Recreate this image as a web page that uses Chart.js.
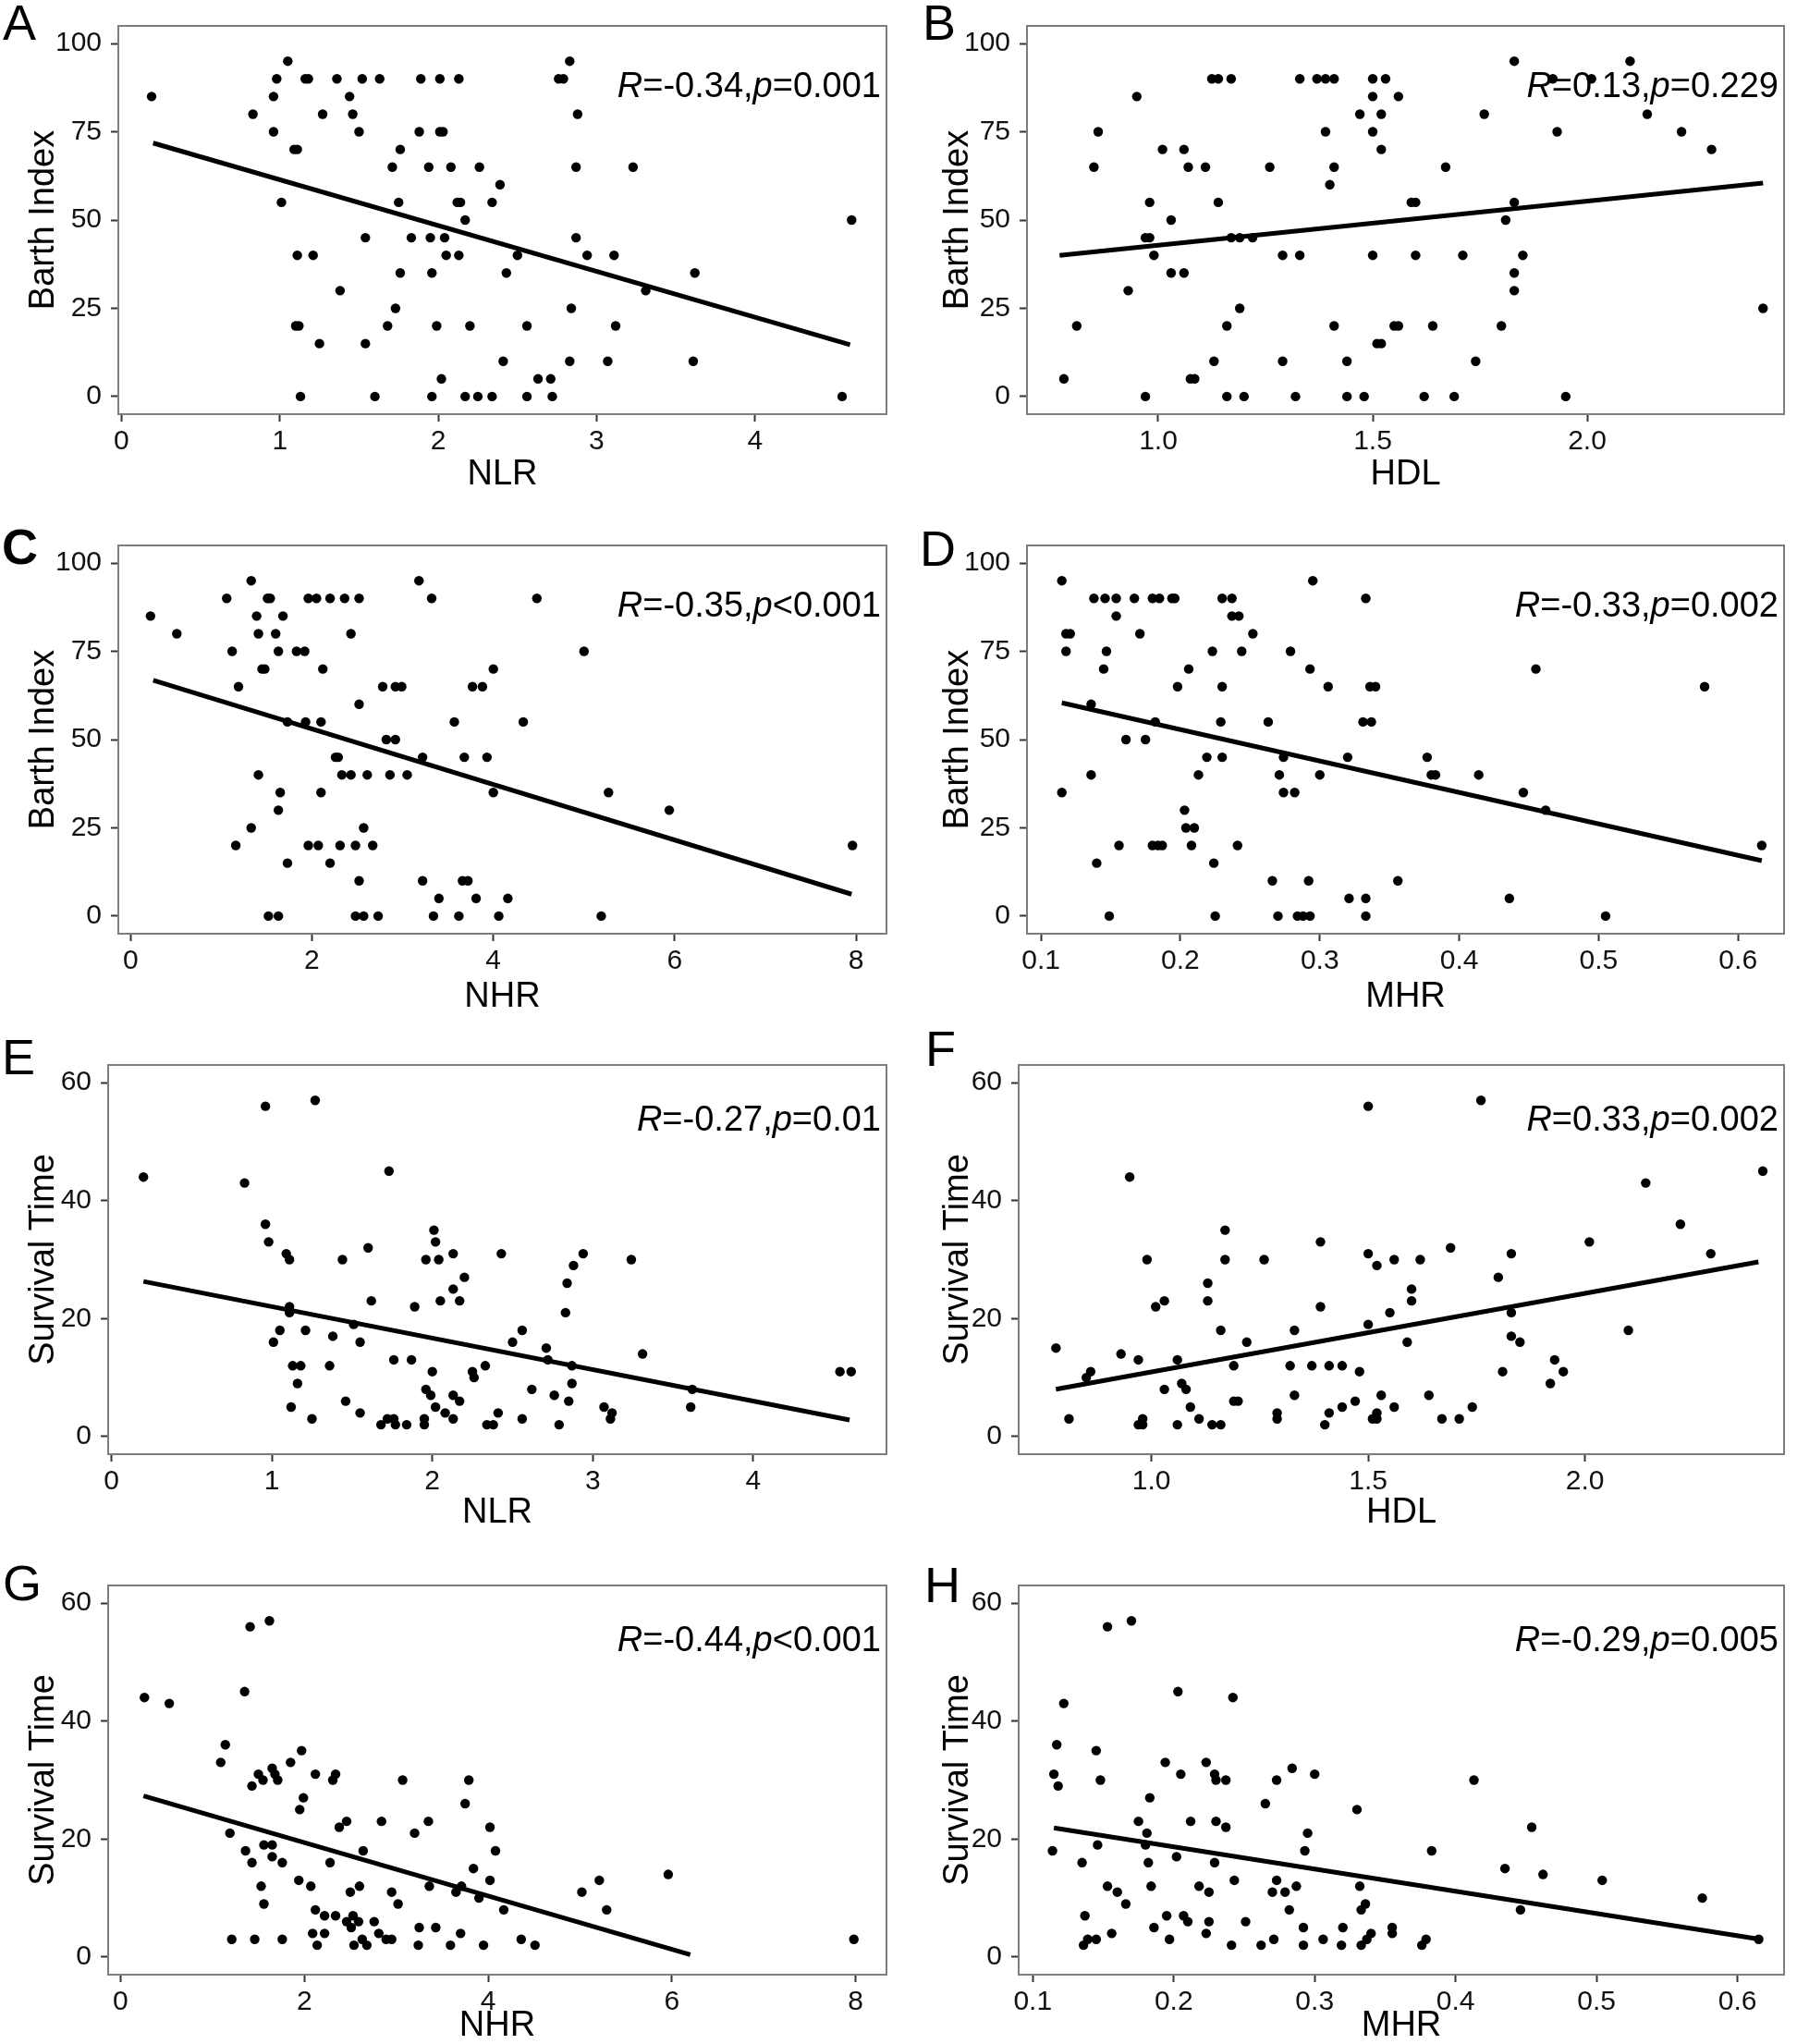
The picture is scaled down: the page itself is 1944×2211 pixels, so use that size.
<!DOCTYPE html>
<html>
<head>
<meta charset="utf-8">
<script src="https://cdn.jsdelivr.net/npm/chart.js@4/dist/chart.umd.min.js"></script>
<style>
  html, body { margin: 0; padding: 0; background: #fff; }
  #fig { position: relative; width: 1944px; height: 2211px; overflow: hidden; }
  #fig canvas { position: absolute; }
</style>
</head>
<body>
<div id="fig"></div>
<script>
// tick values / labels
const barthTicks = [0, 25, 50, 75, 100];
const survTicks = [0, 20, 40, 60];
const nlrTicks = [0, 1, 2, 3, 4];
const hdlTicks = [1.0, 1.5, 2.0];
const hdlTickLabels = ['1.0', '1.5', '2.0'];
const nhrTicks = [0, 2, 4, 6, 8];
const mhrTicks = [0.1, 0.2, 0.3, 0.4, 0.5, 0.6];
const mhrTickLabels = ['0.1', '0.2', '0.3', '0.4', '0.5', '0.6'];

// points [x, y]
const nlrBarth = [
  [0.19,85],[1.05,95],[0.98,90],[1.16,90],[1.18,90],[1.36,90],[1.52,90],[1.63,90],[1.89,90],[2.01,90],[2.13,90],[2.76,90],[2.79,90],[2.83,95],
  [0.96,85],[1.44,85],[0.83,80],[1.27,80],[1.46,80],[2.88,80],
  [0.96,75],[1.50,75],[1.88,75],[2.01,75],[2.03,75],
  [1.09,70],[1.11,70],[1.76,70],
  [1.71,65],[1.94,65],[2.08,65],[2.26,65],[2.87,65],[3.23,65],
  [2.39,60],
  [1.01,55],[1.75,55],[2.12,55],[2.14,55],[2.34,55],
  [2.17,50],[4.61,50],
  [1.54,45],[1.83,45],[1.95,45],[2.04,45],[2.87,45],
  [1.11,40],[1.21,40],[2.05,40],[2.13,40],[2.50,40],[2.94,40],[3.11,40],
  [1.76,35],[1.96,35],[2.43,35],[3.62,35],
  [1.38,30],[3.31,30],
  [1.73,25],[2.84,25],
  [1.10,20],[1.12,20],[1.68,20],[1.99,20],[2.20,20],[2.56,20],[3.12,20],
  [1.25,15],[1.54,15],
  [2.41,10],[2.83,10],[3.07,10],[3.61,10],
  [2.02,5],[2.63,5],[2.71,5],
  [1.13,0],[1.60,0],[1.96,0],[2.17,0],[2.25,0],[2.34,0],[2.56,0],[2.72,0],[4.55,0]
];
const hdlBarth = [
  [0.78,5],[0.81,20],[0.85,65],[0.86,75],[0.93,30],[0.95,85],[0.97,0],[0.97,45],[0.98,45],[0.98,55],[0.99,40],
  [1.01,70],[1.03,50],[1.03,35],[1.06,70],[1.06,35],[1.07,65],[1.075,5],[1.085,5],[1.11,65],[1.13,10],[1.125,90],[1.14,90],
  [1.14,55],[1.17,90],[1.16,20],[1.16,0],[1.17,45],[1.19,45],[1.19,25],[1.20,0],[1.22,45],[1.26,65],[1.29,40],[1.29,10],
  [1.32,0],[1.33,90],[1.33,40],[1.37,90],[1.39,90],[1.41,90],[1.39,75],[1.40,60],[1.41,65],[1.41,20],[1.44,10],[1.44,0],
  [1.47,80],[1.48,0],[1.50,90],[1.50,85],[1.50,75],[1.50,40],[1.52,80],[1.52,70],[1.53,90],[1.51,15],[1.52,15],[1.56,85],
  [1.55,20],[1.56,20],[1.59,55],[1.60,55],[1.60,40],[1.62,0],[1.64,20],[1.67,65],[1.69,0],[1.71,40],[1.74,10],[1.76,80],
  [1.80,20],[1.81,50],[1.83,95],[1.83,55],[1.83,35],[1.83,30],[1.85,40],[1.92,90],[1.93,75],[1.95,0],[2.01,90],
  [2.10,95],[2.14,80],[2.22,75],[2.29,70],[2.41,25]
];
const nhrBarth = [
  [0.22,85],[0.51,80],[1.06,90],[1.33,95],[1.12,75],[1.19,65],[1.39,85],[1.41,80],[1.45,70],[1.48,70],[1.51,90],[1.54,90],
  [1.60,80],[1.63,75],[1.68,85],[1.73,55],[1.83,75],[1.92,75],[1.93,55],[1.96,90],[2.05,90],[2.12,70],[2.10,55],[2.20,90],
  [2.36,90],[2.43,80],[2.52,90],[2.52,60],[3.18,95],[3.32,90],[4.48,90],[5.00,75],[4.00,70],[2.78,65],[2.92,65],[2.99,65],
  [3.77,65],[3.88,65],[3.57,55],[4.33,55],[2.82,50],[2.92,50],[2.26,45],[2.29,45],[3.22,45],[3.68,45],[3.93,45],
  [1.41,40],[2.33,40],[2.43,40],[2.61,40],[2.86,40],[3.05,40],[1.65,35],[2.10,35],[4.00,35],[5.27,35],[1.63,30],[5.94,30],
  [1.33,25],[2.57,25],[1.16,20],[1.96,20],[2.07,20],[2.31,20],[2.48,20],[2.67,20],[7.96,20],[1.73,15],[2.20,15],
  [2.52,10],[3.22,10],[3.66,10],[3.72,10],[3.40,5],[3.81,5],[4.16,5],
  [1.52,0],[1.63,0],[2.48,0],[2.57,0],[2.73,0],[3.34,0],[3.62,0],[4.06,0],[5.19,0]
];
const mhrBarth = [
  [0.115,95],[0.138,90],[0.146,90],[0.154,90],[0.167,90],[0.180,90],[0.185,90],[0.194,90],[0.196,90],[0.230,90],[0.237,90],
  [0.333,90],[0.295,95],[0.154,85],[0.237,85],[0.242,85],[0.118,80],[0.121,80],[0.171,80],[0.252,80],
  [0.118,75],[0.147,75],[0.223,75],[0.244,75],[0.279,75],[0.145,70],[0.206,70],[0.293,70],[0.455,70],
  [0.198,65],[0.230,65],[0.306,65],[0.336,65],[0.340,65],[0.576,65],[0.136,60],
  [0.182,55],[0.229,55],[0.263,55],[0.331,55],[0.337,55],[0.161,50],[0.175,50],
  [0.219,45],[0.230,45],[0.274,45],[0.320,45],[0.377,45],[0.136,40],[0.213,40],[0.271,40],[0.300,40],[0.380,40],[0.383,40],[0.414,40],
  [0.115,35],[0.274,35],[0.282,35],[0.446,35],[0.203,30],[0.462,30],[0.204,25],[0.210,25],
  [0.156,20],[0.180,20],[0.184,20],[0.187,20],[0.208,20],[0.241,20],[0.617,20],[0.140,15],[0.224,15],
  [0.266,10],[0.292,10],[0.356,10],[0.321,5],[0.333,5],[0.436,5],
  [0.149,0],[0.225,0],[0.270,0],[0.284,0],[0.288,0],[0.293,0],[0.333,0],[0.505,0]
];
const nlrSurv = [
  [0.20,44],[0.83,43],[0.96,56],[1.27,57],[1.73,45],[0.96,36],[0.98,33],[1.09,31],[1.11,30],[1.44,30],[1.60,32],
  [2.01,35],[2.02,33],[1.96,30],[2.04,30],[2.13,31],[2.20,27],[2.43,31],[2.94,31],[2.88,29],[3.24,30],[2.84,26],
  [2.13,25],[1.62,23],[2.05,23],[2.17,23],[1.89,22],[1.11,22],[1.11,21],[2.83,21],[1.51,19],[1.05,18],[1.21,18],
  [2.56,18],[1.01,16],[1.38,17],[1.55,16],[2.50,16],[2.71,15],[3.31,14],[1.76,13],[1.87,13],[2.72,13],
  [1.13,12],[1.18,12],[1.36,12],[2.33,12],[2.87,12],[2.00,11],[2.25,11],[2.26,10],[4.54,11],[4.61,11],
  [1.16,9],[2.87,9],[1.96,8],[1.99,7],[2.62,8],[3.62,8],[2.13,7],[2.76,7],[1.46,6],[2.17,6],[2.85,6],
  [1.12,5],[2.02,5],[3.07,5],[3.61,5],[1.55,4],[2.08,4],[2.41,4],[3.12,4],
  [1.25,3],[1.72,3],[1.76,3],[1.95,3],[2.13,3],[2.56,3],[3.11,3],
  [1.68,2],[1.77,2],[1.84,2],[1.95,2],[2.34,2],[2.38,2],[2.79,2]
];
const hdlSurv = [
  [0.78,15],[0.81,3],[0.85,10],[0.86,11],[0.93,14],[0.95,44],[0.97,13],[0.97,2],[0.98,2],[0.98,3],[0.99,30],
  [1.01,22],[1.03,23],[1.03,8],[1.06,13],[1.06,2],[1.07,9],[1.08,8],[1.09,5],[1.11,3],[1.13,26],[1.13,23],
  [1.14,2],[1.16,2],[1.16,18],[1.17,35],[1.17,30],[1.19,12],[1.19,6],[1.20,6],[1.22,16],[1.26,30],[1.29,4],[1.29,3],
  [1.32,12],[1.33,18],[1.33,7],[1.37,12],[1.39,33],[1.39,22],[1.40,2],[1.41,12],[1.41,4],[1.44,12],[1.44,5],
  [1.47,6],[1.48,11],[1.50,56],[1.50,31],[1.50,19],[1.51,3],[1.52,3],[1.52,4],[1.52,29],[1.53,7],[1.55,21],
  [1.56,30],[1.56,5],[1.59,16],[1.60,25],[1.60,23],[1.62,30],[1.64,7],[1.67,3],[1.69,32],[1.71,3],[1.74,5],
  [1.76,57],[1.80,27],[1.81,11],[1.83,31],[1.83,21],[1.83,17],[1.85,16],[1.92,9],[1.93,13],[1.95,11],
  [2.01,33],[2.10,18],[2.14,43],[2.22,36],[2.29,31],[2.41,45]
];
const nhrSurv = [
  [0.26,44],[0.53,43],[1.41,56],[1.62,57],[1.35,45],[1.14,36],[1.09,33],[1.43,29],[1.50,31],[1.55,30],[1.65,32],
  [1.68,31],[1.71,30],[1.85,33],[1.97,35],[1.99,27],[1.95,25],[2.12,31],[2.31,30],[2.34,31],[2.46,23],[2.38,22],
  [3.07,30],[3.79,30],[3.75,26],[3.35,23],[2.84,23],[3.20,21],[4.02,22],[1.19,21],[1.56,19],[1.65,19],[1.36,18],
  [2.64,18],[4.08,18],[1.43,16],[1.65,17],[1.76,16],[2.28,16],[3.84,15],[5.96,14],[1.94,13],[4.02,13],[5.21,13],
  [1.53,12],[2.07,12],[2.60,12],[3.36,12],[3.71,12],[2.50,11],[2.95,11],[3.65,11],[5.02,11],[1.56,9],[3.02,9],
  [3.90,10],[2.12,8],[4.17,8],[5.29,8],[2.22,7],[2.34,7],[2.53,7],[2.46,6],[2.51,5],[2.59,6],[2.76,6],[3.25,5],[3.43,5],
  [2.09,4],[2.22,4],[2.81,4],[3.70,4],[1.21,3],[1.46,3],[1.76,3],[2.63,3],[2.89,3],[2.95,3],[4.36,3],[7.98,3],
  [2.14,2],[2.54,2],[2.68,2],[3.24,2],[3.59,2],[3.95,2],[4.51,2]
];
const mhrSurv = [
  [0.153,56],[0.170,57],[0.122,43],[0.203,45],[0.242,44],[0.117,36],[0.115,31],[0.118,29],[0.145,35],[0.148,30],
  [0.194,33],[0.205,31],[0.223,33],[0.229,31],[0.230,30],[0.237,30],[0.284,32],[0.273,30],[0.300,31],[0.413,30],
  [0.183,27],[0.265,26],[0.330,25],[0.175,23],[0.212,23],[0.230,23],[0.237,22],[0.454,22],[0.181,21],[0.295,21],
  [0.114,18],[0.146,19],[0.180,19],[0.293,18],[0.383,18],[0.202,17],[0.135,16],[0.182,16],[0.229,16],[0.435,15],
  [0.462,14],[0.243,13],[0.273,13],[0.504,13],[0.153,12],[0.184,12],[0.218,12],[0.287,12],[0.332,12],
  [0.160,11],[0.225,11],[0.270,11],[0.279,11],[0.575,10],[0.166,9],[0.336,9],[0.333,8],[0.282,8],[0.446,8],
  [0.137,7],[0.195,7],[0.207,7],[0.210,6],[0.225,6],[0.251,6],[0.186,5],[0.292,5],[0.320,5],[0.355,5],[0.355,4],
  [0.156,4],[0.223,4],[0.340,4],[0.139,3],[0.145,3],[0.197,3],[0.271,3],[0.306,3],[0.337,3],[0.379,3],[0.615,3],
  [0.136,2],[0.241,2],[0.262,2],[0.292,2],[0.319,2],[0.333,2],[0.376,2]
];

// fitted line end points
const fitA = [[0.2, 71.8], [4.6, 14.7]];
const fitB = [[0.77, 40.0], [2.41, 60.5]];
const fitC = [[0.25, 66.8], [7.95, 6.2]];
const fitD = [[0.115, 60.4], [0.617, 15.7]];
const fitE = [[0.2, 26.3], [4.6, 2.8]];
const fitF = [[0.78, 8.0], [2.4, 29.6]];
const fitG = [[0.25, 27.3], [6.2, 0.4]];
const fitH = [[0.115, 21.9], [0.616, 3.0]];

const FONT = "'Liberation Sans', Arial, sans-serif";

// panel letter, stats text and the grey frame
const framePlugin = {
  id: 'frame',
  beforeDatasetsDraw(chart) {
    const { ctx, chartArea: a } = chart;
    ctx.save();
    ctx.strokeStyle = '#7d7d7d';
    ctx.lineWidth = 2;
    ctx.strokeRect(a.left, a.top, a.right - a.left, a.bottom - a.top);
    ctx.restore();
  },
  afterDraw(chart, args, o) {
    const { ctx, chartArea: a } = chart;
    ctx.save();
    ctx.fillStyle = '#000';
    ctx.textBaseline = 'alphabetic';
    ctx.textAlign = 'left';
    ctx.font = (o.bold ? 'bold ' : '') + '54px ' + FONT;
    ctx.fillText(o.letter, o.lx, o.ly);

    const parts = [
      ['R', true], ['=' + o.r + ',', false], ['p', true], [o.p, false]
    ];
    const fontOf = it => (it ? 'italic ' : '') + '38px ' + FONT;
    let total = 0;
    parts.forEach(([t, it]) => { ctx.font = fontOf(it); total += ctx.measureText(t).width; });
    let x = a.right - 6 - total;
    const y = a.top + o.sy;
    parts.forEach(([t, it]) => {
      ctx.font = fontOf(it);
      ctx.fillText(t, x, y);
      x += ctx.measureText(t).width;
    });
    ctx.restore();
  }
};

const panels = [
  { letter: 'A', pts: nlrBarth, fit: fitA, xLab: 'NLR', yLab: 'Barth Index', xt: nlrTicks, xtl: null, yt: barthTicks,
    xr: [-0.02, 4.83], yr: [-5, 105], r: '-0.34', p: '=0.001',
    rect: [0, 0, 973, 540], box: [128, 26, 959, 448], lx: 3, ly: 43, sy: 77, xpb: 7, ypt: 29 },
  { letter: 'B', pts: hdlBarth, fit: fitB, xLab: 'HDL', yLab: 'Barth Index', xt: hdlTicks, xtl: hdlTickLabels, yt: barthTicks,
    xr: [0.694, 2.459], yr: [-5, 105], r: '0.13', p: '=0.229',
    rect: [973, 0, 971, 540], box: [1111, 26, 1930, 448], lx: 25, ly: 43, sy: 77, xpb: 7, ypt: 45 },
  { letter: 'C', bold: true, pts: nhrBarth, fit: fitC, xLab: 'NHR', yLab: 'Barth Index', xt: nhrTicks, xtl: null, yt: barthTicks,
    xr: [-0.135, 8.335], yr: [-5, 105], r: '-0.35', p: '<0.001',
    rect: [0, 540, 973, 560], box: [128, 590, 959, 1010], lx: 2, ly: 70, sy: 77, xpb: 2, ypt: 29 },
  { letter: 'D', pts: mhrBarth, fit: fitD, xLab: 'MHR', yLab: 'Barth Index', xt: mhrTicks, xtl: mhrTickLabels, yt: barthTicks,
    xr: [0.09, 0.633], yr: [-5, 105], r: '-0.33', p: '=0.002',
    rect: [973, 540, 971, 560], box: [1111, 590, 1930, 1010], lx: 22, ly: 72, sy: 77, xpb: 2, ypt: 45 },
  { letter: 'E', pts: nlrSurv, fit: fitE, xLab: 'NLR', yLab: 'Survival Time', xt: nlrTicks, xtl: null, yt: survTicks,
    xr: [-0.02, 4.83], yr: [-3, 63], r: '-0.27', p: '=0.01',
    rect: [0, 1100, 973, 565], box: [117, 1152, 959, 1573], lx: 2, ly: 62, sy: 71, xpb: 9, ypt: 29 },
  { letter: 'F', pts: hdlSurv, fit: fitF, xLab: 'HDL', yLab: 'Survival Time', xt: hdlTicks, xtl: hdlTickLabels, yt: survTicks,
    xr: [0.694, 2.459], yr: [-3, 63], r: '0.33', p: '=0.002',
    rect: [973, 1100, 971, 565], box: [1102, 1152, 1930, 1573], lx: 28, ly: 53, sy: 71, xpb: 9, ypt: 45 },
  { letter: 'G', pts: nhrSurv, fit: fitG, xLab: 'NHR', yLab: 'Survival Time', xt: nhrTicks, xtl: null, yt: survTicks,
    xr: [-0.135, 8.335], yr: [-3, 63], r: '-0.44', p: '<0.001',
    rect: [0, 1665, 973, 546], box: [117, 1715, 959, 2136], lx: 3, ly: 66, sy: 71, xpb: 0, ypt: 29 },
  { letter: 'H', pts: mhrSurv, fit: fitH, xLab: 'MHR', yLab: 'Survival Time', xt: mhrTicks, xtl: mhrTickLabels, yt: survTicks,
    xr: [0.09, 0.633], yr: [-3, 63], r: '-0.29', p: '=0.005',
    rect: [973, 1665, 971, 546], box: [1102, 1715, 1930, 2136], lx: 27, ly: 68, sy: 71, xpb: 0, ypt: 45 }
];

const fig = document.getElementById('fig');

panels.forEach(P => {
  const [rx, ry, rw, rh] = P.rect;
  const [bl, bt, br, bb] = P.box;
  const cv = document.createElement('canvas');
  cv.width = rw; cv.height = rh;
  cv.style.left = rx + 'px'; cv.style.top = ry + 'px';
  cv.style.width = rw + 'px'; cv.style.height = rh + 'px';
  fig.appendChild(cv);

  const tickFont = { family: FONT, size: 30, lineHeight: 1.2 };
  const titleFont = { family: FONT, size: 38, lineHeight: 1 };

  new Chart(cv, {
    type: 'scatter',
    data: {
      datasets: [
        {
          data: P.fit.map(([x, y]) => ({ x, y })),
          showLine: true,
          borderColor: '#000',
          borderWidth: 5,
          pointRadius: 0,
          order: 1
        },
        {
          data: P.pts.map(([x, y]) => ({ x, y })),
          backgroundColor: '#000',
          borderWidth: 0,
          pointRadius: 5.2,
          order: 0
        }
      ]
    },
    options: {
      responsive: false,
      animation: false,
      events: [],
      devicePixelRatio: 1,
      layout: {
        autoPadding: false,
        padding: { left: 0, top: bt - ry, right: rx + rw - br, bottom: 0 }
      },
      plugins: {
        legend: { display: false },
        tooltip: { enabled: false },
        frame: { letter: P.letter, bold: !!P.bold, lx: P.lx, ly: P.ly, r: P.r, p: P.p, sy: P.sy }
      },
      scales: {
        x: {
          type: 'linear',
          min: P.xr[0], max: P.xr[1],
          afterBuildTicks: s => { s.ticks = P.xt.map(v => ({ value: v })); },
          afterFit: s => { s.height = ry + rh - bb; },
          ticks: {
            autoSkip: false, maxRotation: 0, padding: 4, color: '#111', font: tickFont,
            callback: (v, i) => (P.xtl ? P.xtl[i] : String(v))
          },
          grid: { drawOnChartArea: false, drawTicks: true, tickLength: 8, tickColor: '#333', tickWidth: 2 },
          border: { display: false },
          title: { display: true, text: P.xLab, color: '#000', font: titleFont, padding: { top: 0, bottom: P.xpb } }
        },
        y: {
          type: 'linear',
          min: P.yr[0], max: P.yr[1],
          afterBuildTicks: s => { s.ticks = P.yt.map(v => ({ value: v })); },
          afterFit: s => { s.width = bl - rx; },
          ticks: { padding: 10, color: '#111', font: tickFont, callback: v => String(v) },
          grid: { drawOnChartArea: false, drawTicks: true, tickLength: 8, tickColor: '#333', tickWidth: 2 },
          border: { display: false },
          title: { display: true, text: P.yLab, color: '#000', font: titleFont, padding: { top: P.ypt, bottom: 0 } }
        }
      }
    },
    plugins: [framePlugin]
  });
});
</script>
</body>
</html>
